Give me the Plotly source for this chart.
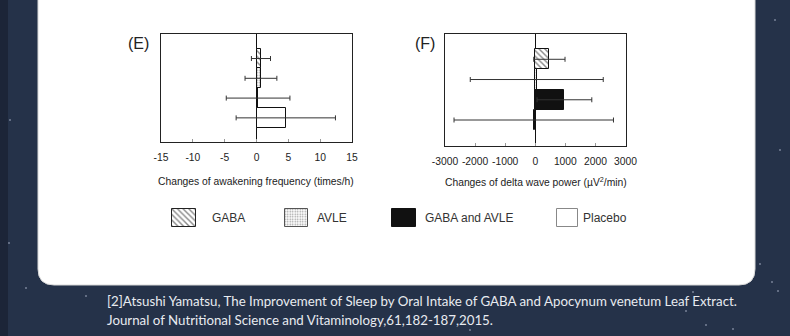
import plotly.graph_objects as go

W, H = 790, 336

# ---------------- data ----------------
groups = ["GABA", "AVLE", "GABA and AVLE", "Placebo"]

awakening_mean = [0.7, 0.7, 0.25, 4.6]        # (E) times/h
awakening_err = [1.5, 2.5, 5.0, 7.8]

delta_mean = [470, 50, 970, -50]               # (F) uV^2/min
delta_err = [520, 2210, 910, 2650]

e_tickvals = [-15, -10, -5, 0, 5, 10, 15]
e_ticktext = ["-15", "-10", "-5", "0", "5", "10", "15"]
f_tickvals = [-3000, -2000, -1000, 0, 1000, 2000, 3000]
f_ticktext = ["-3000", "-2000", "-1000", "0", "1000", "2000", "3000"]

e_title = "Changes of awakening frequency (times/h)"
f_title = "Changes of delta wave power (µV<sup>2</sup>/min)"
citation = ["[2]Atsushi Yamatsu, The Improvement of Sleep by Oral Intake of GABA and Apocynum venetum Leaf Extract.",
            "Journal of Nutritional Science and Vitaminology,61,182-187,2015."]

# ---------------- styles ----------------
styles = {
    "GABA": dict(color="white", line=dict(color="#111", width=1),
                 pattern=dict(shape="\\", fgcolor="#111", bgcolor="white", size=4, solidity=0.35)),
    "AVLE": dict(color="white", line=dict(color="#111", width=1),
                 pattern=dict(shape=".", fgcolor="#333", bgcolor="white", size=2.5, solidity=0.3)),
    "GABA and AVLE": dict(color="#111", line=dict(color="#111", width=1)),
    "Placebo": dict(color="white", line=dict(color="#111", width=1)),
}
legend_line = {"GABA": "#222", "AVLE": "#555", "GABA and AVLE": "#111", "Placebo": "#888"}

def px(x):
    return x / W

def py(y):
    return 1 - y / H

AX_FONT = dict(family="Liberation Sans, Arial", size=10.3, color="#222")

fig = go.Figure()

# main bars
for i, g in enumerate(groups):
    fig.add_trace(go.Bar(
        y=[g], x=[awakening_mean[i]], orientation="h",
        marker=styles[g], showlegend=False,
        error_x=dict(type="data", array=[awakening_err[i]], color="#333", thickness=1, width=2.5),
        xaxis="x", yaxis="y"))
    fig.add_trace(go.Bar(
        y=[g], x=[delta_mean[i]], orientation="h",
        marker=styles[g], showlegend=False,
        error_x=dict(type="data", array=[delta_err[i]], color="#333", thickness=1, width=2.5),
        xaxis="x2", yaxis="y2"))

# legend swatches (one tiny axis per group)
legend_boxes = {  # pixel boxes (x0, x1, y0, y1)
    "GABA": (171, 197, 208, 228),
    "AVLE": (284, 309, 208, 228),
    "GABA and AVLE": (391, 417, 208, 228),
    "Placebo": (556, 579, 208, 228),
}
legend_text_x = {"GABA": 210, "AVLE": 315, "GABA and AVLE": 423, "Placebo": 581}

layout_axes = {}
for k, g in enumerate(groups):
    n = k + 3
    st = dict(styles[g])
    st["line"] = dict(color=legend_line[g], width=1)
    fig.add_trace(go.Bar(y=[g], x=[1], orientation="h", marker=st, showlegend=False,
                         hoverinfo="skip", xaxis=f"x{n}", yaxis=f"y{n}"))
    x0, x1, y0, y1 = legend_boxes[g]
    layout_axes[f"xaxis{n}"] = dict(domain=[px(x0), px(x1)], anchor=f"y{n}", range=[-0.04, 1.04],
                                    visible=False, fixedrange=True)
    layout_axes[f"yaxis{n}"] = dict(domain=[py(y1), py(y0)], anchor=f"x{n}", range=[-0.56, 0.56],
                                    visible=False, fixedrange=True)

common_x = dict(showline=True, mirror=True, linecolor="#222", linewidth=1, showgrid=False,
                zeroline=True, zerolinecolor="#111", zerolinewidth=1,
                ticks="inside", ticklen=3, tickcolor="#999", tickfont=AX_FONT,
                ticklabelstandoff=6, fixedrange=True, automargin=False)
common_y = dict(showline=True, mirror=True, linecolor="#222", linewidth=1, showgrid=False,
                showticklabels=False, ticks="", zeroline=False, type="category",
                categoryorder="array", categoryarray=groups, fixedrange=True, automargin=False)

fig.update_layout(
    width=W, height=H, autosize=False,
    margin=dict(l=0, r=0, t=0, b=0, pad=0, autoexpand=False),
    paper_bgcolor="#253249", plot_bgcolor="white",
    bargap=0, barmode="overlay",
    xaxis=dict(domain=[px(161), px(352)], anchor="y", range=[-15, 15],
               tickvals=e_tickvals, ticktext=e_ticktext, **common_x),
    yaxis=dict(domain=[py(142), py(34)], anchor="x", range=[4.22, -1.24], **common_y),
    xaxis2=dict(domain=[px(445), px(625.5)], anchor="y2", range=[-3000, 3000],
                tickvals=f_tickvals, ticktext=f_ticktext, **common_x),
    yaxis2=dict(domain=[py(145.5), py(34)], anchor="x2", range=[4.26, -1.25], **common_y),
    **layout_axes,
)

# darker strip on the left edge of the background
fig.add_shape(type="rect", xref="paper", yref="paper", x0=0, x1=px(8), y0=0, y1=1,
              fillcolor="#1c2538", line=dict(width=0), layer="below")

# a few faint background stars (decoration)
stars = [(9, 243), (26, 288), (86, 296), (760, 264), (772, 282), (778, 291), (693, 292),
         (686, 311), (706, 325), (733, 329), (775, 20), (10, 120), (780, 150), (470, 330)]
for sx, sy in stars:
    fig.add_shape(type="circle", xref="paper", yref="paper",
                  x0=px(sx - 1), x1=px(sx + 1), y0=py(sy + 1), y1=py(sy - 1),
                  fillcolor="rgba(200,210,230,0.5)", line=dict(width=0), layer="below")

# white card with rounded bottom corners
r = 16
x0, x1, y0, y1 = 38, 755, -30, 285
path = (f"M {px(x0)},{py(y0)} L {px(x1)},{py(y0)} L {px(x1)},{py(y1 - r)} "
        f"Q {px(x1)},{py(y1)} {px(x1 - r)},{py(y1)} L {px(x0 + r)},{py(y1)} "
        f"Q {px(x0)},{py(y1)} {px(x0)},{py(y1 - r)} Z")
fig.add_shape(type="path", path=path, xref="paper", yref="paper",
              fillcolor="white", line=dict(color="#d8d8d8", width=1), layer="below")

ann = []
ann.append(dict(text="(E)", x=px(138), y=py(43), xref="paper", yref="paper", showarrow=False,
                xanchor="center", yanchor="middle",
                font=dict(family="Liberation Sans, Arial", size=16, color="#222")))
ann.append(dict(text="(F)", x=px(425), y=py(43), xref="paper", yref="paper", showarrow=False,
                xanchor="center", yanchor="middle",
                font=dict(family="Liberation Sans, Arial", size=16, color="#222")))
ann.append(dict(text=e_title, x=px(255.5), y=py(181.5), xref="paper", yref="paper",
                xanchor="center", yanchor="middle", showarrow=False, font=AX_FONT))
ann.append(dict(text=f_title, x=px(536), y=py(181.5), xref="paper", yref="paper",
                xanchor="center", yanchor="middle", showarrow=False, font=AX_FONT))
for g in groups:
    ann.append(dict(text=g, x=px(legend_text_x[g]), y=py(218), xref="paper", yref="paper",
                    xanchor="left", yanchor="middle", showarrow=False,
                    font=dict(family="Liberation Sans, Arial", size=12, color="#333")))
for j, line in enumerate(citation):
    ann.append(dict(text=line, x=px(105), y=py(301 + 18.5 * j), xref="paper", yref="paper",
                    xanchor="left", yanchor="middle", showarrow=False,
                    font=dict(family="Lato", size=13.3, color="#e8ebf0")))
fig.update_layout(annotations=ann)

fig.write_html("out.html")
